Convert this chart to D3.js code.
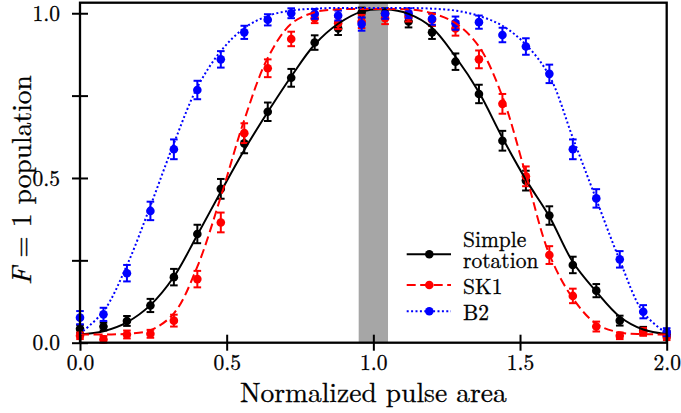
<!DOCTYPE html>
<html>
<head>
<meta charset="utf-8">
<script src="https://cdn.jsdelivr.net/npm/d3@7/dist/d3.min.js"></script>
<style>
  html, body { margin: 0; padding: 0; background: #fff; }
</style>
</head>
<body>
<svg id="chart" width="681" height="413"></svg>
<script>
// Normalized pulse area of each measurement
const pulseArea = [0.00, 0.08, 0.16, 0.24, 0.32, 0.40, 0.48, 0.56, 0.64, 0.72, 0.80, 0.88, 0.96,
                   1.04, 1.12, 1.20, 1.28, 1.36, 1.44, 1.52, 1.60, 1.68, 1.76, 1.84, 1.92, 2.00];

// Measured F = 1 population with its uncertainty
const simpleData = [0.042, 0.049, 0.066, 0.113, 0.199, 0.330, 0.467, 0.605, 0.701, 0.804, 0.911, 0.954, 1.002,
                    1.000, 0.975, 0.942, 0.853, 0.755, 0.613, 0.492, 0.386, 0.236, 0.158, 0.067, 0.036, 0.025];
const simpleErr  = [0.012, 0.012, 0.015, 0.020, 0.025, 0.028, 0.030, 0.030, 0.028, 0.027, 0.022, 0.020, 0.015,
                    0.015, 0.018, 0.020, 0.025, 0.028, 0.030, 0.030, 0.028, 0.025, 0.020, 0.015, 0.012, 0.010];

const sk1Data = [0.021, 0.010, 0.025, 0.027, 0.067, 0.193, 0.365, 0.636, 0.833, 0.922, 0.985, 0.970, 0.975,
                 0.985, 0.990, 0.980, 0.954, 0.860, 0.725, 0.505, 0.266, 0.142, 0.049, 0.021, 0.033, 0.018];
const sk1Err  = [0.010, 0.010, 0.012, 0.012, 0.018, 0.025, 0.030, 0.030, 0.027, 0.022, 0.015, 0.018, 0.020,
                 0.018, 0.015, 0.018, 0.022, 0.027, 0.030, 0.030, 0.027, 0.022, 0.015, 0.010, 0.012, 0.010];

const b2Data = [0.076, 0.086, 0.211, 0.400, 0.587, 0.767, 0.860, 0.942, 0.980, 1.000, 0.998, 0.993, 0.967,
                0.998, 1.000, 0.983, 0.970, 0.973, 0.934, 0.899, 0.816, 0.587, 0.438, 0.253, 0.094, 0.032];
const b2Err  = [0.020, 0.020, 0.025, 0.028, 0.030, 0.028, 0.025, 0.020, 0.017, 0.015, 0.015, 0.015, 0.020,
                0.015, 0.015, 0.018, 0.020, 0.020, 0.022, 0.025, 0.028, 0.030, 0.028, 0.025, 0.020, 0.012];

// Model curves evaluated on the same pulse areas
const simpleFit = [0.025, 0.035, 0.062, 0.114, 0.200, 0.327, 0.458, 0.585, 0.700, 0.808, 0.905, 0.968, 1.005,
                   1.012, 0.998, 0.956, 0.868, 0.760, 0.622, 0.495, 0.383, 0.245, 0.155, 0.079, 0.040, 0.026];
const sk1Fit = [0.025, 0.025, 0.027, 0.038, 0.089, 0.231, 0.443, 0.676, 0.864, 0.968, 1.003, 1.012, 1.013,
                1.013, 1.012, 1.000, 0.970, 0.899, 0.747, 0.510, 0.268, 0.135, 0.057, 0.031, 0.026, 0.025];
const b2Fit = [0.028, 0.095, 0.235, 0.415, 0.605, 0.775, 0.885, 0.955, 0.992, 1.008, 1.014, 1.016, 1.016,
               1.016, 1.016, 1.014, 1.008, 0.992, 0.962, 0.905, 0.810, 0.622, 0.435, 0.250, 0.092, 0.028];

// Highlighted pulse-area window
const bandRange = [0.95, 1.05];

const xTicks = [0, 0.5, 1.0, 1.5, 2.0];
const xTickLabels = ["0.0", "0.5", "1.0", "1.5", "2.0"];
const yTicks = [0, 0.25, 0.5, 0.75, 1.0];
const yTickLabels = ["0.0", "", "0.5", "", "1.0"];

(function draw() {
  const FONT = "'Latin Modern Roman', 'CMU Serif', 'Liberation Serif', serif";
  const svg = d3.select("#chart");
  const pLeft = 80, pRight = 666.7, pTop = 2.7, pBottom = 342.7;

  const x = d3.scaleLinear().domain([0, 2]).range([pLeft, pRight]);
  const y = d3.scaleLinear().domain([0, 1.032]).range([pBottom, pTop]);

  const series = [
    { data: simpleData, err: simpleErr, fit: simpleFit, color: "#000000", dash: null },
    { data: sk1Data, err: sk1Err, fit: sk1Fit, color: "#ff0000", dash: "9,4.5" },
    { data: b2Data, err: b2Err, fit: b2Fit, color: "#0000ff", dash: "2,2.4" }
  ];

  // text with a hairline outline so the thin serif face reads at a normal weight
  const styleText = sel => sel
    .style("font-family", FONT).attr("fill", "#000")
    .attr("stroke", "#000").attr("stroke-width", 0.3);

  svg.append("defs").append("clipPath").attr("id", "plotClip")
    .append("rect").attr("x", pLeft).attr("y", pTop)
    .attr("width", pRight - pLeft).attr("height", pBottom - pTop);

  // shaded window
  svg.append("rect")
    .attr("x", x(bandRange[0])).attr("y", pTop)
    .attr("width", x(bandRange[1]) - x(bandRange[0]))
    .attr("height", pBottom - pTop)
    .attr("fill", "#a6a6a6");

  // measured points with error bars
  series.forEach(s => {
    const g = svg.append("g");
    const pts = pulseArea.map((a, i) => ({ a, v: s.data[i], e: s.err[i] }));
    const cap = 3.8;
    g.selectAll(null).data(pts).enter().append("line")
      .attr("x1", d => x(d.a)).attr("x2", d => x(d.a))
      .attr("y1", d => y(d.v - d.e)).attr("y2", d => y(d.v + d.e))
      .attr("stroke", s.color).attr("stroke-width", 2);
    [-1, 1].forEach(sign => {
      g.selectAll(null).data(pts).enter().append("line")
        .attr("x1", d => x(d.a) - cap).attr("x2", d => x(d.a) + cap)
        .attr("y1", d => y(d.v + sign * d.e)).attr("y2", d => y(d.v + sign * d.e))
        .attr("stroke", s.color).attr("stroke-width", 2);
    });
    g.selectAll(null).data(pts).enter().append("circle")
      .attr("cx", d => x(d.a)).attr("cy", d => y(d.v)).attr("r", 4.3)
      .attr("fill", s.color);
  });

  // model curves
  const line = d3.line().x(d => x(d[0])).y(d => y(d[1])).curve(d3.curveCatmullRom.alpha(0.5));
  series.forEach(s => {
    svg.append("path")
      .attr("clip-path", "url(#plotClip)")
      .attr("d", line(pulseArea.map((a, i) => [a, s.fit[i]])))
      .attr("fill", "none").attr("stroke", s.color).attr("stroke-width", 2)
      .attr("stroke-dasharray", s.dash);
  });

  // frame
  svg.append("rect")
    .attr("x", pLeft).attr("y", pTop).attr("width", pRight - pLeft).attr("height", pBottom - pTop)
    .attr("fill", "none").attr("stroke", "#000").attr("stroke-width", 2.3);

  // axes with ticks crossing the spines
  const xAxis = svg.append("g").attr("transform", `translate(0,${pBottom})`)
    .call(d3.axisBottom(x).tickValues(xTicks).tickFormat((d, i) => xTickLabels[i]).tickSize(8).tickPadding(12));
  const yAxis = svg.append("g").attr("transform", `translate(${pLeft},0)`)
    .call(d3.axisLeft(y).tickValues(yTicks).tickFormat((d, i) => yTickLabels[i]).tickSize(8).tickPadding(12));
  [xAxis, yAxis].forEach(a => {
    a.attr("font-family", null).attr("font-size", null);
    a.select(".domain").remove();
    a.selectAll("text").call(styleText).style("font-size", "21.5px");
    a.selectAll(".tick line").attr("stroke", "#000").attr("stroke-width", 2);
  });
  xAxis.selectAll(".tick line").attr("y1", -8).attr("y2", 8);
  yAxis.selectAll(".tick line").attr("x1", -8).attr("x2", 8);
  xAxis.selectAll("text").attr("y", 27).attr("dy", null);
  yAxis.selectAll("text").attr("dy", "0.33em");

  // axis titles
  svg.append("text")
    .attr("x", (pLeft + pRight) / 2).attr("y", 402)
    .attr("text-anchor", "middle")
    .call(styleText).style("font-size", "27.5px")
    .text("Normalized pulse area");

  const yTitle = svg.append("text")
    .attr("transform", "translate(31,180) rotate(-90)")
    .attr("text-anchor", "middle")
    .call(styleText).style("font-size", "27.5px");
  yTitle.append("tspan").style("font-style", "italic").text("F");
  yTitle.append("tspan").text(" = 1 population");

  // legend
  const legendRows = [
    { s: series[0], y: 254.3, labels: ["Simple", "rotation"], ty: [247, 268] },
    { s: series[1], y: 285, labels: ["SK1"], ty: [293.5] },
    { s: series[2], y: 311.3, labels: ["B2"], ty: [319.5] }
  ];
  const lg = svg.append("g");
  legendRows.forEach(r => {
    lg.append("line").attr("x1", 406.7).attr("x2", 451).attr("y1", r.y).attr("y2", r.y)
      .attr("stroke", r.s.color).attr("stroke-width", 2).attr("stroke-dasharray", r.s.dash);
    lg.append("circle").attr("cx", 429.3).attr("cy", r.y).attr("r", 4.3).attr("fill", r.s.color);
    r.labels.forEach((t, k) => {
      lg.append("text").attr("x", 463).attr("y", r.ty[k])
        .call(styleText).style("font-size", "21.5px").text(t);
    });
  });
})();
</script>
</body>
</html>
